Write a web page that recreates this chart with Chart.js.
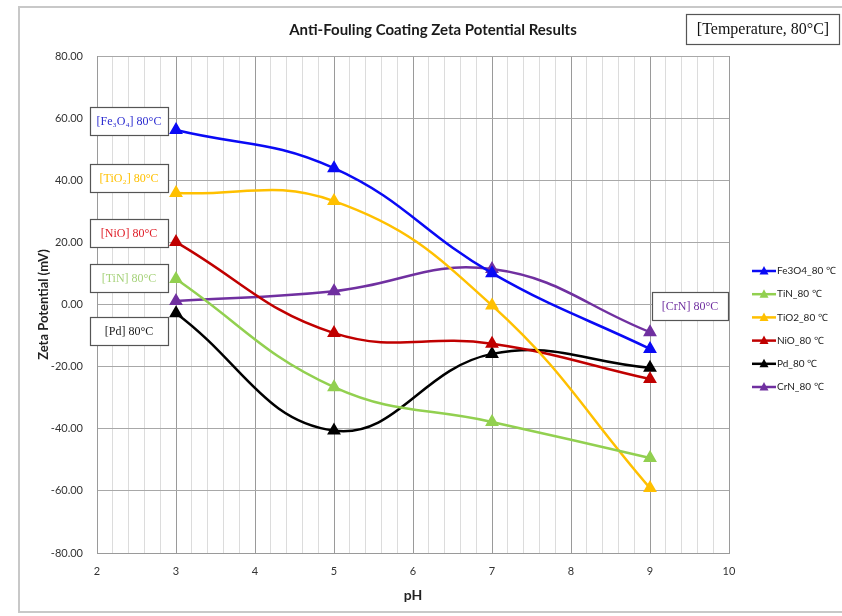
<!DOCTYPE html>
<html>
<head>
<meta charset="utf-8">
<script src="https://cdn.jsdelivr.net/npm/chart.js@4/dist/chart.umd.min.js"></script>
<style>
html,body{margin:0;padding:0;background:#fff;}
#wrap{width:842px;height:616px;position:relative;}
</style>
</head>
<body>
<div id="wrap"><canvas id="c" width="842" height="616"></canvas></div>
<script>
// ---- data ----
const pH = [3, 5, 7, 9];
const fe3o4 = [56.2, 43.9, 10.1, -14.3];
const tin   = [8.2, -26.6, -37.8, -49.4];
const tio2  = [35.9, 33.3, -0.3, -59.1];
const nio   = [20.1, -9.2, -12.6, -24.0];
const pd    = [-2.8, -40.6, -15.9, -20.4];
const crn   = [1.1, 4.3, 11.4, -8.9];
const seriesNames = ['Fe3O4_80 ℃', 'TiN_80 ℃', 'TiO2_80 ℃', 'NiO_80 ℃', 'Pd_80 ℃', 'CrN_80 ℃'];
const seriesColors = ['#0a0af5', '#92d050', '#ffc000', '#c00000', '#000000', '#7030a0'];
const seriesValues = [fe3o4, tin, tio2, nio, pd, crn];
const yTicks = [-80, -60, -40, -20, 0, 20, 40, 60, 80];
const xTickLabels = [2, 3, 4, 5, 6, 7, 8, 9, 10];
const titleText = 'Anti-Fouling Coating Zeta Potential Results';
const tempLabel = '[Temperature, 80°C]';
const boxLabels = ['[Fe₃O₄] 80°C', '[TiO₂] 80°C', '[NiO] 80°C', '[TiN] 80°C', '[Pd] 80°C', '[CrN] 80°C'];
const boxColors = ['#2c2cd0', '#ffc000', '#e0202a', '#a6d27a', '#1a1a1a', '#7030a0'];

const datasets = seriesNames.map((n, i) => ({
  label: n,
  data: pH.map((x, j) => ({x: x, y: seriesValues[i][j]})),
  borderColor: seriesColors[i],
  backgroundColor: seriesColors[i],
  borderWidth: 2.5,
  pointStyle: 'triangle',
  pointRadius: 5.5,
  pointHoverRadius: 5.5,
  tension: 0.42,
  fill: false
}));

// layout positions for decorations (pixels)
const boxRects = [
  [90, 107, 78, 28],
  [90, 164, 78, 28],
  [90, 219, 78, 28],
  [90, 264, 78, 28],
  [90, 317, 78, 28],
  [652, 292, 76, 28]
];

const decor = {
  id: 'decor',
  beforeDraw(chart) {
    const ctx = chart.ctx;
    ctx.save();
    ctx.fillStyle = '#fff';
    ctx.fillRect(0, 0, chart.width, chart.height);
    ctx.strokeStyle = '#c8c8c8';
    ctx.lineWidth = 2;
    ctx.strokeRect(19, 7, 840, 605);
    ctx.restore();
  },
  afterDraw(chart) {
    const ctx = chart.ctx;
    ctx.save();
    // title
    ctx.fillStyle = '#1a1a1a';
    ctx.font = 'bold 15px Lato, "Liberation Sans Narrow", sans-serif';
    ctx.textAlign = 'center';
    ctx.textBaseline = 'middle';
    ctx.fillText(titleText, 433, 30);
    // temperature box
    ctx.fillStyle = '#fff';
    ctx.fillRect(686, 14, 153, 30);
    ctx.strokeStyle = '#555';
    ctx.lineWidth = 1.2;
    ctx.strokeRect(686.5, 14.5, 153, 30);
    ctx.fillStyle = '#111';
    ctx.font = '16px "Liberation Serif", "DejaVu Serif", serif';
    ctx.textAlign = 'center';
    ctx.fillText(tempLabel, 763, 30);
    // label boxes
    boxRects.forEach((r, i) => {
      ctx.fillStyle = '#fff';
      ctx.fillRect(r[0], r[1], r[2], r[3]);
      ctx.strokeStyle = '#555';
      ctx.lineWidth = 1.2;
      ctx.strokeRect(r[0] + 0.5, r[1] + 0.5, r[2], r[3]);
      ctx.fillStyle = boxColors[i];
      ctx.font = '12px "Liberation Serif", "DejaVu Serif", serif';
      ctx.textAlign = 'center';
      ctx.fillText(boxLabels[i], r[0] + r[2] / 2, r[1] + r[3] / 2 + 1);
    });
    // legend
    const lx = 752, ly0 = 271, dy = 23.2;
    seriesNames.forEach((n, i) => {
      const y = ly0 + i * dy;
      ctx.strokeStyle = seriesColors[i];
      ctx.lineWidth = 2.5;
      ctx.beginPath();
      ctx.moveTo(lx, y);
      ctx.lineTo(lx + 24, y);
      ctx.stroke();
      ctx.fillStyle = seriesColors[i];
      ctx.beginPath();
      ctx.moveTo(lx + 12, y - 5);
      ctx.lineTo(lx + 16.5, y + 3.5);
      ctx.lineTo(lx + 7.5, y + 3.5);
      ctx.closePath();
      ctx.fill();
      ctx.fillStyle = '#222';
      ctx.font = '10px Lato, "Open Sans", sans-serif';
      ctx.textAlign = 'left';
      ctx.fillText(n, lx + 25, y);
    });
    ctx.restore();
  }
};

const isInt = v => Math.abs(v - Math.round(v)) < 1e-6;

new Chart(document.getElementById('c'), {
  type: 'line',
  data: { datasets },
  options: {
    responsive: false,
    animation: false,
    layout: { padding: { left: 30, right: 113, top: 56, bottom: 0 } },
    plugins: { legend: { display: false }, title: { display: false }, tooltip: { enabled: false } },
    scales: {
      x: {
        type: 'linear',
        min: 2, max: 10,
        afterBuildTicks(scale) {
          const t = [];
          for (let k = 0; k <= 40; k++) t.push({ value: 2 + k * 0.2 });
          scale.ticks = t;
        },
        afterFit(scale) { scale.height = 63; },
        ticks: {
          autoSkip: false,
          maxRotation: 0,
          padding: 12,
          color: '#333',
          font: { size: 11, family: 'Lato, "Open Sans", sans-serif' },
          callback: v => isInt(v) && xTickLabels.includes(Math.round(v)) ? String(Math.round(v)) : ''
        },
        grid: {
          drawTicks: false,
          color: ctx => isInt(ctx.tick.value) ? '#9a9a9a' : '#dcdcdc',
          lineWidth: 1
        },
        border: { color: '#9a9a9a' },
        title: {
          display: true, text: 'pH', color: '#222',
          font: { size: 14, weight: 'bold', family: 'Lato, "Open Sans", sans-serif' },
          padding: { top: 0, bottom: 12 }
        }
      },
      y: {
        type: 'linear',
        min: -80, max: 80,
        afterBuildTicks(scale) { scale.ticks = yTicks.map(v => ({ value: v })); },
        afterFit(scale) { scale.width = 67; },
        ticks: {
          padding: 14,
          color: '#333',
          font: { size: 11, family: 'Lato, "Open Sans", sans-serif' },
          callback: v => Number(v).toFixed(2)
        },
        grid: { drawTicks: false, color: '#a8a8a8', lineWidth: 1 },
        border: { color: '#9a9a9a' },
        title: {
          display: true, text: 'Zeta Potential (mV)', color: '#222',
          font: { size: 13, weight: 'bold', family: 'Lato, "Open Sans", sans-serif' },
          padding: { top: 6, bottom: 0 }
        }
      }
    }
  },
  plugins: [decor]
});
</script>
</body>
</html>
